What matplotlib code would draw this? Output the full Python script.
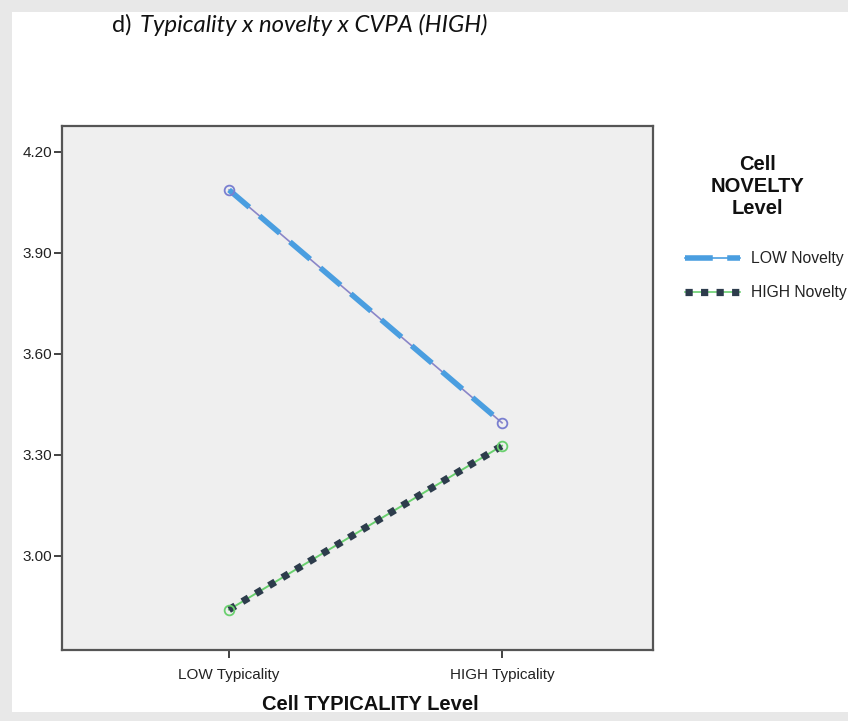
import matplotlib
matplotlib.use("Agg")
import matplotlib.pyplot as plt
from matplotlib.lines import Line2D
from matplotlib.patches import Rectangle

categories = ["LOW Typicality", "HIGH Typicality"]
low_novelty = [4.087, 3.395]
high_novelty = [2.84, 3.327]
yticks = [3.00, 3.30, 3.60, 3.90, 4.20]
ytick_labels = ["3.00", "3.30", "3.60", "3.90", "4.20"]

plt.rcParams['font.family'] = ['Liberation Sans', 'DejaVu Sans']

W, H = 848, 721
fig = plt.figure(figsize=(W / 100, H / 100), dpi=100)
fig.patch.set_facecolor("#e8e8e8")
fig.patches.append(Rectangle((12 / W, 1 - 712 / H), (W - 12) / W, 700 / H,
                             transform=fig.transFigure, facecolor="white",
                             edgecolor="none", zorder=-5))

ax = fig.add_axes([62 / W, 1 - 650 / H, (653 - 62) / W, (650 - 126) / H])
ax.set_zorder(2)
ax.set_facecolor("#efefef")
for s in ax.spines.values():
    s.set_color("#555555")
    s.set_linewidth(1.6)

x = list(range(len(categories)))

# LOW novelty: thin purple line with thick blue dashes
ax.plot(x, low_novelty, color="#8a86c8", lw=1.2, zorder=3)
ax.plot(x, low_novelty, color="#4a9ee0", lw=4.0, dashes=(4.8, 2.4),
        solid_capstyle="butt", dash_capstyle="butt", zorder=4)
ax.plot(x, low_novelty, linestyle="none", marker="o", ms=7, mfc="none",
        mec="#7a7fd0", mew=1.3, zorder=5)

# HIGH novelty: thin green line with dark square dashes
ax.plot(x, high_novelty, color="#6ad06f", lw=1.4, zorder=3)
ax.plot(x, high_novelty, color="#2d3c4c", lw=5.2, dashes=(1.0, 1.15),
        dash_capstyle="butt", zorder=4)
ax.plot(x, high_novelty, linestyle="none", marker="o", ms=7, mfc="none",
        mec="#6ad06f", mew=1.3, zorder=5)

ax.set_xlim(-0.612, 1.553)
ax.set_ylim(2.72, 4.277)
ax.set_yticks(yticks)
ax.set_yticklabels(ytick_labels)
ax.set_xticks(x)
ax.set_xticklabels(categories)
ax.tick_params(axis="both", direction="out", length=6, width=1.3,
               color="#333333", labelsize=11, labelcolor="#222222")
ax.tick_params(axis="y", pad=1)
ax.tick_params(axis="x", pad=7)

fig.text(370 / W, 1 - 705 / H, "Cell TYPICALITY Level", ha="center",
         va="center", fontsize=14.5, fontweight="bold", color="#111111")

# title
fig.text(112 / W, 1 - 25 / H, "d)", ha="left", va="center", fontsize=17,
         family="Lato", color="#111111")
fig.text(140 / W, 1 - 25 / H, "Typicality x novelty x CVPA (HIGH)", ha="left",
         va="center", fontsize=17.2, family="Lato", style="italic",
         color="#111111")

# legend
fig.text(757 / W, 1 - 186 / H, "Cell\nNOVELTY\nLevel", ha="center",
         va="center", fontsize=14.5, fontweight="bold", color="#111111",
         linespacing=1.2)

def legend_entry(y, thin_color, thick_color, lw, dashes, label):
    y0 = 1 - y / H
    x0, x1 = 685 / W, 740 / W
    fig.add_artist(Line2D([x0, x1], [y0, y0], color=thin_color, lw=1.2,
                          transform=fig.transFigure))
    fig.add_artist(Line2D([x0, x1], [y0, y0], color=thick_color, lw=lw,
                          dashes=dashes, dash_capstyle="butt",
                          transform=fig.transFigure))
    fig.text(751 / W, y0, label, ha="left", va="center", fontsize=11.3,
             color="#222222")

legend_entry(258, "#4a9ee0", "#4a9ee0", 4.0, (5.0, 2.6), "LOW Novelty")
legend_entry(292, "#6ad06f", "#2d3c4c", 5.2, (1.0, 1.15), "HIGH Novelty")

fig.savefig("out.png", dpi=100, facecolor=fig.get_facecolor())
